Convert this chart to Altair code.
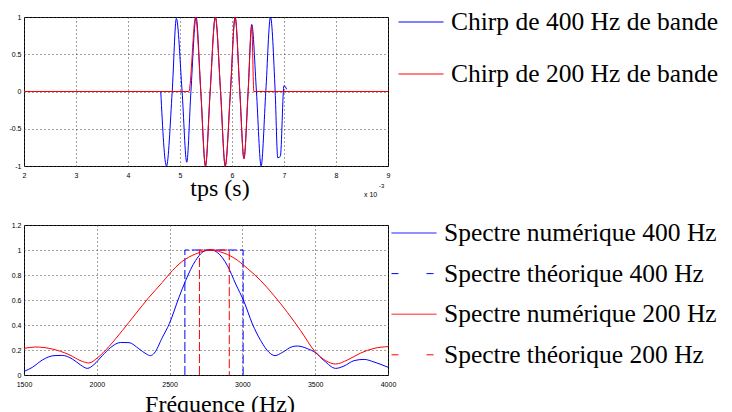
import altair as alt
import pandas as pd

# ---------------- data ----------------
# top panel: time in ms (axis shows x10^-3 s)
chirp400_t = [4.63, 4.74, 4.85, 4.93, 5.04, 5.13, 5.21, 5.31, 5.40, 5.49, 5.58, 5.68, 5.78,
              5.87, 5.97, 6.06, 6.15, 6.23, 6.31, 6.38, 6.47, 6.56, 6.65, 6.74, 6.83, 6.88,
              6.93, 7.00, 7.05]
chirp400_v = [0.0, -1.0, 0.0, 0.98, 0.0, -0.95, 0.0, 1.0, 0.0, -1.0, 0.0, 1.0, 0.0,
              -1.0, 0.0, 1.0, 0.0, -0.9, 0.0, 0.9, 0.0, -1.0, 0.0, 1.0, 0.0, -0.89,
              -0.87, 0.08, 0.03]
chirp200_t = [2.0, 5.17, 5.30, 5.40, 5.49, 5.58, 5.68, 5.78, 5.87, 5.97, 6.06, 6.15, 6.23,
              6.31, 6.38, 6.42, 9.0]
chirp200_v = [0.0, 0.0, 1.0, 0.0, -1.0, 0.0, 1.0, 0.0, -1.0, 0.0, 1.0, 0.0, -0.9,
              0.0, 0.88, 0.0, 0.0]

# bottom panel: spectra
num400_f = [1500, 1557, 1626, 1706, 1763, 1832, 1889, 1935, 1980, 2038, 2095, 2164, 2221,
            2289, 2340, 2368, 2395, 2450, 2498, 2564, 2610, 2678, 2747, 2790, 2828, 2897,
            2954, 3011, 3069, 3126, 3183, 3224, 3275, 3343, 3378, 3446, 3499, 3561, 3641,
            3698, 3767, 3836, 3904, 4000]
num400_v = [0.029, 0.061, 0.12, 0.155, 0.157, 0.128, 0.08, 0.053, 0.083, 0.155, 0.22, 0.26, 0.259,
            0.21, 0.168, 0.155, 0.175, 0.30, 0.41, 0.62, 0.755, 0.915, 0.995, 1.0, 0.98, 0.875,
            0.728, 0.587, 0.408, 0.275, 0.181, 0.155, 0.181, 0.227, 0.232, 0.211, 0.181, 0.115, 0.053,
            0.072, 0.115, 0.125, 0.104, 0.062]
theo400_f = [2605, 2605, 3005, 3005]
theo400_v = [0, 1, 1, 0]
num200_f = [1500, 1580, 1694, 1809, 1900, 1946, 2003, 2083, 2175, 2266, 2358, 2450, 2498,
            2587, 2678, 2747, 2790, 2851, 2943, 3034, 3126, 3217, 3309, 3400, 3499, 3572,
            3641, 3721, 3813, 3904, 4000]
num200_v = [0.213, 0.224, 0.208, 0.163, 0.109, 0.096, 0.136, 0.227, 0.355, 0.488, 0.621, 0.741, 0.808,
            0.909, 0.968, 0.995, 1.0, 0.984, 0.936, 0.853, 0.755, 0.635, 0.501, 0.355, 0.187, 0.115,
            0.088, 0.12, 0.176, 0.213, 0.227]
theo200_f = [2705, 2705, 2910, 2910]
theo200_v = [0, 1, 1, 0]

top_names = ["Chirp de 400 Hz de bande", "Chirp de 200 Hz de bande"]
top_colors = ["#0000ff", "#ff0000"]
bottom_names = ["Spectre numérique 400 Hz", "Spectre théorique 400 Hz",
                "Spectre numérique 200 Hz", "Spectre théorique 200 Hz"]
bottom_colors = ["#0000ff", "#0000ff", "#ff0000", "#ff0000"]

top_x_ticks = [2, 3, 4, 5, 6, 7, 8, 9]
top_y_ticks = [-1, -0.5, 0, 0.5, 1]
bot_x_ticks = [1500, 2000, 2500, 3000, 3500, 4000]
bot_y_ticks = [0, 0.2, 0.4, 0.6, 0.8, 1, 1.2]
top_x_title = "tps (s)"
bot_x_title = "Fréquence (Hz)"
exponent_base = "x 10"
exponent_pow = "-3"

# ---------------- styling ----------------
TICK_FONT = "Liberation Sans, Arial, Helvetica, sans-serif"
SERIF = "Liberation Serif, Times New Roman, serif"
LEG_FONT_SIZE = 25.5


def axis(ticks, title=None, tx=None, ty=None, pad=5):
    kw = dict(values=ticks, labelExpr="'' + datum.value", grid=True, gridColor="#444",
              gridDash=[1, 3], gridWidth=1, ticks=False, domain=False,
              labelFont=TICK_FONT, labelFontSize=7, labelColor="#000", labelPadding=pad,
              labelFlush=False, labelOverlap=False)
    if title is not None:
        kw.update(title=title, titleFont=SERIF, titleFontSize=24, titleFontWeight="normal",
                  titleColor="#000", titleX=tx, titleY=ty, titleAlign="center",
                  titleBaseline="alphabetic")
    else:
        kw.update(title=None)
    return alt.Axis(**kw)


def frame(xs, ys, name):
    return pd.DataFrame({"x": xs, "v": ys, "serie": name, "i": list(range(len(xs)))})


# ---------------- top panel ----------------
top_legend = alt.Legend(title=None, orient="none", legendX=374, legendY=-18, direction="vertical",
                        symbolType="stroke", symbolSize=2025, symbolStrokeWidth=1,
                        labelFont=SERIF, labelFontSize=LEG_FONT_SIZE, labelColor="#000",
                        labelOffset=7, labelLimit=400, rowPadding=15, padding=0)


def top_layer(df):
    return alt.Chart(df).mark_line(strokeWidth=1, interpolate="monotone").encode(
        x=alt.X("x:Q", scale=alt.Scale(domain=[2, 9], nice=False, zero=False),
                axis=axis(top_x_ticks, top_x_title, 195.5, 29)),
        y=alt.Y("v:Q", scale=alt.Scale(domain=[-1, 1], nice=False), axis=axis(top_y_ticks, pad=3)),
        color=alt.Color("serie:N", scale=alt.Scale(domain=top_names, range=top_colors),
                        legend=top_legend),
        order="i:Q",
    )


exp1 = alt.Chart(pd.DataFrame({"txt": [exponent_base]})).mark_text(
    font=TICK_FONT, fontSize=7, align="left", baseline="middle", color="#000"
).encode(text="txt:N", x=alt.value(340), y=alt.value(178))
exp2 = alt.Chart(pd.DataFrame({"txt": [exponent_pow]})).mark_text(
    font=TICK_FONT, fontSize=6, align="left", baseline="middle", color="#000"
).encode(text="txt:N", x=alt.value(355), y=alt.value(169))

top = alt.layer(
    top_layer(frame(chirp400_t, chirp400_v, top_names[0])),
    top_layer(frame(chirp200_t, chirp200_v, top_names[1])),
    exp1, exp2,
).properties(width=364, height=149)

# ---------------- bottom panel ----------------
bot_legend = alt.Legend(title=None, orient="none", legendX=367, legendY=-15, direction="vertical",
                        symbolType="stroke", symbolSize=2025, symbolStrokeWidth=1,
                        symbolDash={"expr": "indexof(datum.label, 'théorique') >= 0 ? [7, 28] : [1, 0]"},
                        labelFont=SERIF, labelFontSize=LEG_FONT_SIZE, labelColor="#000",
                        labelOffset=7, labelLimit=400, rowPadding=3.6, padding=0)


def bot_layer(df, dash=None, interp="monotone"):
    mk = dict(strokeWidth=1, interpolate=interp)
    if dash is not None:
        mk["strokeDash"] = dash
    return alt.Chart(df).mark_line(**mk).encode(
        x=alt.X("x:Q", scale=alt.Scale(domain=[1500, 4000], nice=False, zero=False),
                axis=axis(bot_x_ticks, bot_x_title, 195.5, 36)),
        y=alt.Y("v:Q", scale=alt.Scale(domain=[0, 1.2], nice=False), axis=axis(bot_y_ticks, pad=3)),
        color=alt.Color("serie:N", scale=alt.Scale(domain=bottom_names, range=bottom_colors),
                        legend=bot_legend),
        order="i:Q",
    )


bottom = alt.layer(
    bot_layer(frame(num400_f, num400_v, bottom_names[0])),
    bot_layer(frame(theo400_f, theo400_v, bottom_names[1]), dash=[9, 3], interp="linear"),
    bot_layer(frame(num200_f, num200_v, bottom_names[2])),
    bot_layer(frame(theo200_f, theo200_v, bottom_names[3]), dash=[9, 3], interp="linear"),
).properties(width=364, height=150)

chart = alt.vconcat(top, bottom, spacing=59, bounds="flush").resolve_scale(
    color="independent"
).resolve_legend(color="independent").configure_view(
    stroke="#000", strokeWidth=1
).properties(
    padding={"left": 0, "top": -10, "right": 0, "bottom": 0},
    background="#ffffff",
)

chart.save("out.html", embed_options={"renderer": "svg", "actions": False})
